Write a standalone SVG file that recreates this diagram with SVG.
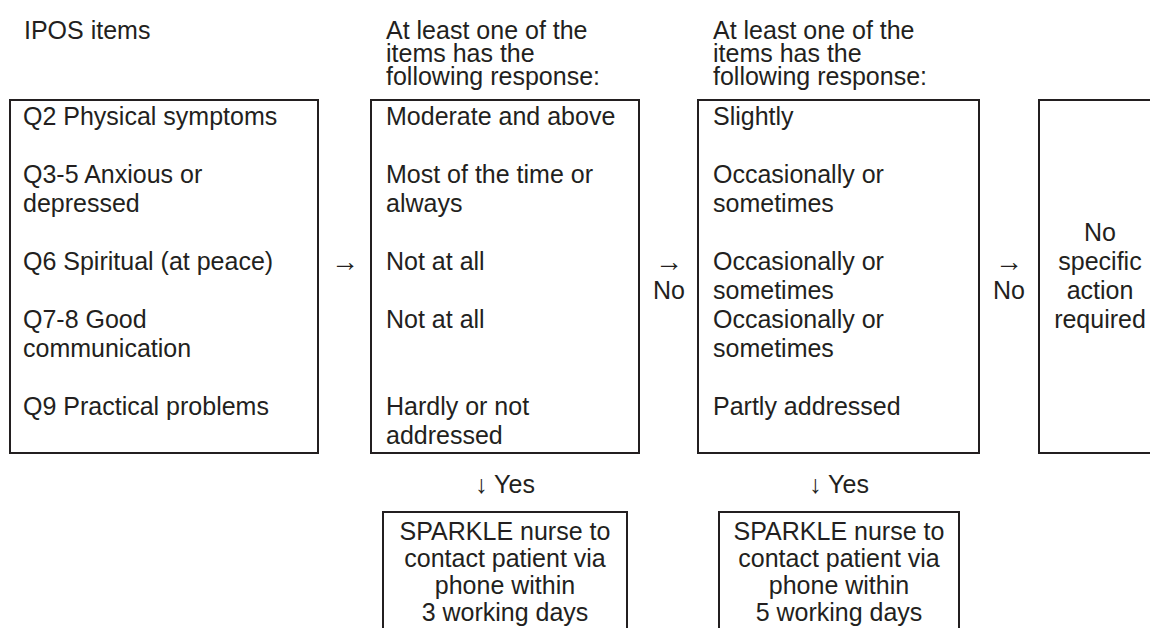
<svg xmlns="http://www.w3.org/2000/svg" width="1150" height="628" viewBox="0 0 1150 628">
<style>
  text { font-family: "Liberation Sans", Arial, "DejaVu Sans", sans-serif; font-size: 25px; fill: #231f20; }
  .box { fill: none; stroke: #231f20; stroke-width: 2; }
  .c { text-anchor: middle; }
  .arr { font-size: 28px; }
</style>
<rect x="0" y="0" width="1150" height="628" fill="#ffffff"/>

<g id="headers">
  <text x="24" y="39">IPOS items</text>
  <text x="386" y="39">At least one of the</text>
  <text x="386" y="62">items has the</text>
  <text x="386" y="85">following response:</text>
  <text x="713" y="39">At least one of the</text>
  <text x="713" y="62">items has the</text>
  <text x="713" y="85">following response:</text>
</g>

<g id="node-ipos">
  <rect class="box" x="10" y="100" width="308" height="353"/>
  <text x="23" y="125">Q2 Physical symptoms</text>
  <text x="23" y="183">Q3-5 Anxious or</text>
  <text x="23" y="212">depressed</text>
  <text x="23" y="270">Q6 Spiritual (at peace)</text>
  <text x="23" y="328">Q7-8 Good</text>
  <text x="23" y="357">communication</text>
  <text x="23" y="415">Q9 Practical problems</text>
</g>

<g id="node-severe">
  <rect class="box" x="371" y="100" width="268" height="353"/>
  <text x="386" y="125">Moderate and above</text>
  <text x="386" y="183">Most of the time or</text>
  <text x="386" y="212">always</text>
  <text x="386" y="270">Not at all</text>
  <text x="386" y="328">Not at all</text>
  <text x="386" y="415">Hardly or not</text>
  <text x="386" y="444">addressed</text>
</g>

<g id="node-mild">
  <rect class="box" x="698" y="100" width="281" height="353"/>
  <text x="713" y="125">Slightly</text>
  <text x="713" y="183">Occasionally or</text>
  <text x="713" y="212">sometimes</text>
  <text x="713" y="270">Occasionally or</text>
  <text x="713" y="299">sometimes</text>
  <text x="713" y="328">Occasionally or</text>
  <text x="713" y="357">sometimes</text>
  <text x="713" y="415">Partly addressed</text>
</g>

<g id="node-none">
  <rect class="box" x="1039" y="100" width="130" height="353"/>
  <text class="c" x="1100" y="241">No</text>
  <text class="c" x="1100" y="270">specific</text>
  <text class="c" x="1100" y="299">action</text>
  <text class="c" x="1100" y="328">required</text>
</g>

<g id="node-3days">
  <rect class="box" x="383" y="512" width="244" height="130"/>
  <text class="c" x="505" y="540">SPARKLE nurse to</text>
  <text class="c" x="505" y="567">contact patient via</text>
  <text class="c" x="505" y="594">phone within</text>
  <text class="c" x="505" y="621">3 working days</text>
</g>

<g id="node-5days">
  <rect class="box" x="719" y="512" width="240" height="130"/>
  <text class="c" x="839" y="540">SPARKLE nurse to</text>
  <text class="c" x="839" y="567">contact patient via</text>
  <text class="c" x="839" y="594">phone within</text>
  <text class="c" x="839" y="621">5 working days</text>
</g>

<g id="connectors">
  <text class="c arr" x="345" y="271">→</text>
  <text class="c arr" x="669" y="271">→</text>
  <text class="c" x="669" y="299">No</text>
  <text class="c arr" x="1009" y="271">→</text>
  <text class="c" x="1009" y="299">No</text>
  <text class="c" x="505" y="493">↓ Yes</text>
  <text class="c" x="839" y="493">↓ Yes</text>
</g>
</svg>
